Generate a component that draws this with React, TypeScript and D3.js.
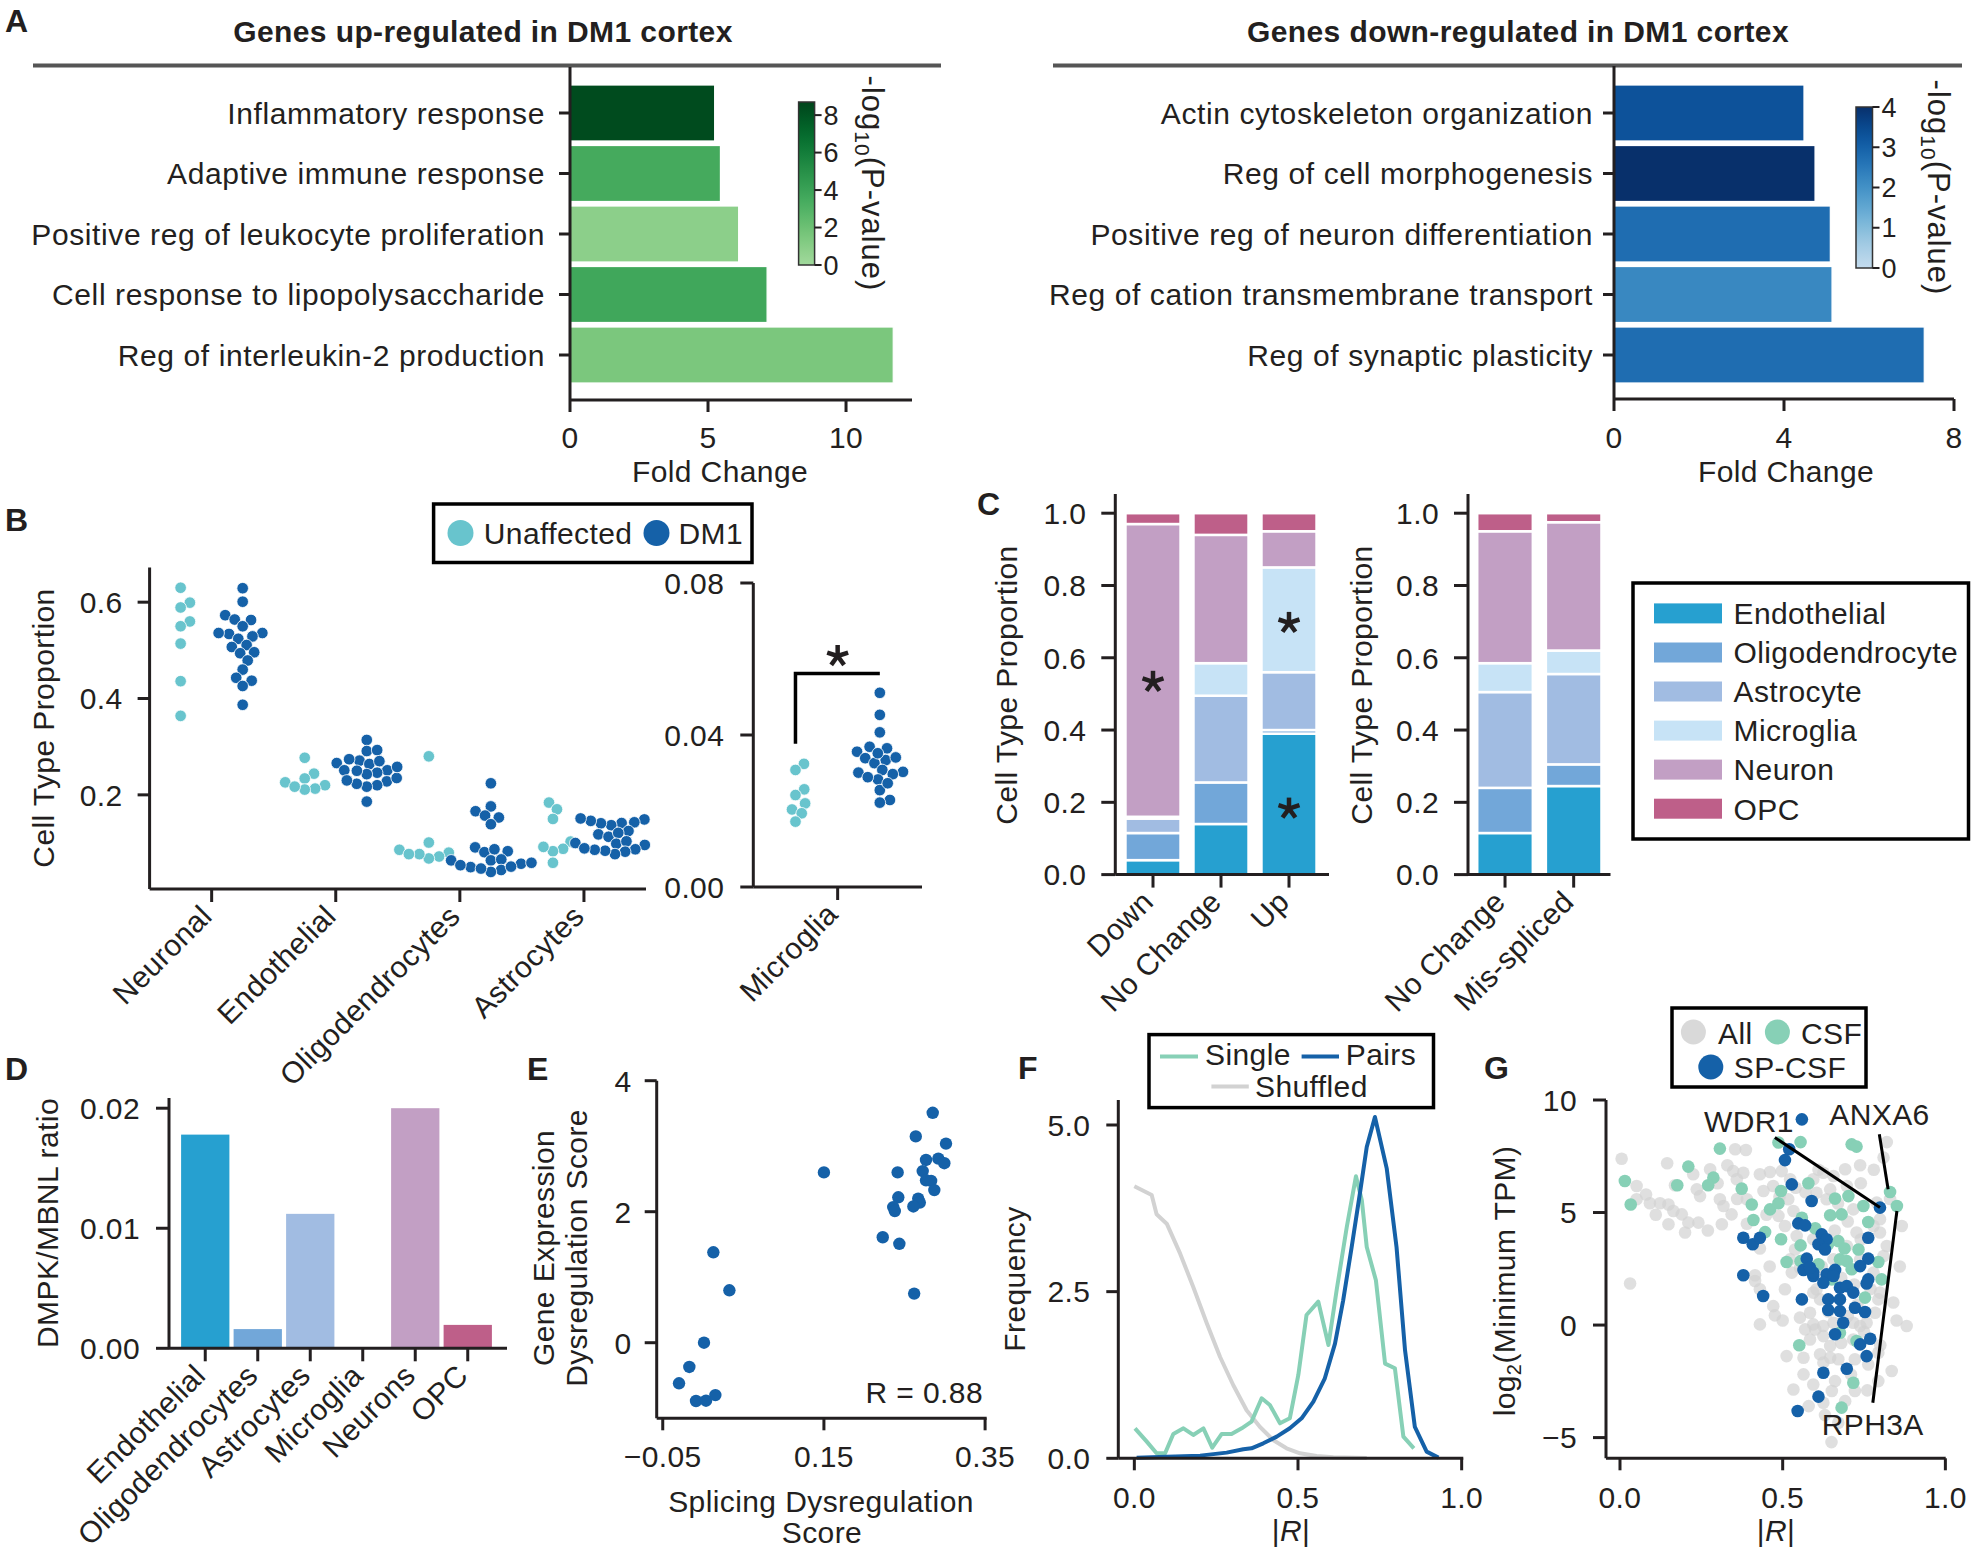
import React from "react";
import * as d3 from "d3";

const FONT = "'Liberation Sans', Arial, Helvetica, sans-serif";
const INK = "#231f20";
const AX = 3;
const FS = 30;

// ================= Panel A data =================
const upTerms = [
  "Inflammatory response",
  "Adaptive immune response",
  "Positive reg of leukocyte proliferation",
  "Cell response to lipopolysaccharide",
  "Reg of interleukin-2 production",
];
const upFold = [5.24, 5.45, 6.11, 7.14, 11.71];
const upLogP = [8.4, 3.5, 0.85, 3.7, 1.5];
const upCbarTicks = [0, 2, 4, 6, 8];

const downTerms = [
  "Actin cytoskeleton organization",
  "Reg of cell morphogenesis",
  "Positive reg of neuron differentiation",
  "Reg of cation transmembrane transport",
  "Reg of synaptic plasticity",
];
const downFold = [4.47, 4.73, 5.09, 5.13, 7.3];
const downLogP = [3.3, 4.0, 2.75, 2.2, 2.75];
const downCbarTicks = [0, 1, 2, 3, 4];

// ================= Panel B data =================
const bCats = ["Neuronal", "Endothelial", "Oligodendrocytes", "Astrocytes"];
const neuronalUnaffected = [0.63, 0.599, 0.589, 0.56, 0.55, 0.514, 0.436, 0.364];
const neuronalDM1 = [0.629, 0.601, 0.573, 0.563, 0.564, 0.55, 0.536, 0.534, 0.529, 0.536, 0.524, 0.507, 0.511, 0.494, 0.496, 0.479, 0.46, 0.443, 0.437, 0.426, 0.387];
const endothelialUnaffected = [0.277, 0.244, 0.234, 0.226, 0.22, 0.213, 0.211, 0.217];
const endothelialDM1 = [0.314, 0.291, 0.293, 0.271, 0.266, 0.274, 0.264, 0.27, 0.251, 0.246, 0.243, 0.251, 0.25, 0.228, 0.22, 0.217, 0.223, 0.23, 0.235, 0.186, 0.258];
const oligoUnaffected = [0.28, 0.101, 0.086, 0.08, 0.072, 0.068, 0.077, 0.077];
const oligoDM1 = [0.224, 0.176, 0.166, 0.153, 0.157, 0.139, 0.091, 0.083, 0.081, 0.087, 0.057, 0.064, 0.059, 0.064, 0.066, 0.044, 0.04, 0.05, 0.051, 0.054, 0.047];
const astroUnaffected = [0.184, 0.17, 0.15, 0.103, 0.088, 0.083, 0.092, 0.059];
const astroDM1 = [0.149, 0.143, 0.1415, 0.137, 0.141, 0.146, 0.151, 0.125, 0.118, 0.113, 0.121, 0.0985, 0.1, 0.096, 0.1035, 0.087, 0.082, 0.077, 0.084, 0.086, 0.089];
const microUnaffected = [0.0324, 0.0308, 0.0257, 0.0242, 0.022, 0.0204, 0.0194, 0.0172];
const microDM1 = [0.0511, 0.0453, 0.0407, 0.0369, 0.0365, 0.0356, 0.0334, 0.0339, 0.0341, 0.0326, 0.0301, 0.0303, 0.0308, 0.0283, 0.0289, 0.0297, 0.0255, 0.0229, 0.0222, 0.0352, 0.0273];
const bTicks = [0.2, 0.4, 0.6];
const microTicks = [0, 0.04, 0.08];

// ================= Panel C data =================
const cellTypes = ["Endothelial", "Oligodendrocyte", "Astrocyte", "Microglia", "Neuron", "OPC"];
const cellColors = ["#26a0d0", "#72a7d9", "#a1bce2", "#c7e3f6", "#c29fc4", "#be5f89"];
const cCats1 = ["Down", "No Change", "Up"];
const c1Endothelial = [0.04, 0.14, 0.39];
const c1Oligodendrocyte = [0.075, 0.115, 0.01];
const c1Astrocyte = [0.04, 0.24, 0.16];
const c1Microglia = [0.005, 0.09, 0.29];
const c1Neuron = [0.81, 0.355, 0.1];
const c1OPC = [0.03, 0.06, 0.05];
const cCats2 = ["No Change", "Mis-spliced"];
const c2Endothelial = [0.115, 0.245];
const c2Oligodendrocyte = [0.125, 0.06];
const c2Astrocyte = [0.265, 0.25];
const c2Microglia = [0.08, 0.065];
const c2Neuron = [0.365, 0.355];
const c2OPC = [0.05, 0.025];
const cTicks = [0, 0.2, 0.4, 0.6, 0.8, 1.0];

// ================= Panel D data =================
const dCats = ["Endothelial", "Oligodendrocytes", "Astrocytes", "Microglia", "Neurons", "OPC"];
const dRatio = [0.0178, 0.0016, 0.0112, 0.0001, 0.02, 0.00195];
const dTicks = [0, 0.01, 0.02];

// ================= Panel E data =================
const eSplicing = [0.285, 0.264, 0.3015, 0.15, 0.2415, 0.2767, 0.292, 0.2994, 0.2726, 0.2767, 0.283, 0.287, 0.2423, 0.267, 0.269, 0.261, 0.236, 0.238, 0.223, 0.2436, 0.262, 0.0128, 0.0327, 0.0012, -0.017, -0.0298, -0.0087, 0.0037, 0.0153];
const eExpression = [3.51, 3.15, 3.04, 2.6, 2.6, 2.79, 2.81, 2.74, 2.62, 2.48, 2.47, 2.33, 2.22, 2.2, 2.14, 2.08, 2.07, 2.01, 1.61, 1.51, 0.75, 1.38, 0.8, 0.0, -0.37, -0.62, -0.89, -0.885, -0.8];
const eXTicks = [-0.05, 0.15, 0.35];
const eYTicks = [0, 2, 4];

// ================= Panel F data =================
const fShuffledR = [0.0, 0.053, 0.068, 0.099, 0.14, 0.18, 0.221, 0.262, 0.302, 0.343, 0.384, 0.425, 0.465, 0.506, 0.557, 0.608, 0.71];
const fShuffledFreq = [4.08, 3.95, 3.66, 3.52, 3.07, 2.57, 2.03, 1.52, 1.1, 0.72, 0.47, 0.27, 0.15, 0.075, 0.035, 0.015, 0.005];
const fSingleR = [0.002, 0.038, 0.068, 0.094, 0.119, 0.15, 0.18, 0.211, 0.238, 0.267, 0.297, 0.328, 0.358, 0.389, 0.414, 0.445, 0.475, 0.501, 0.526, 0.562, 0.593, 0.618, 0.649, 0.677, 0.695, 0.71, 0.738, 0.766, 0.796, 0.822, 0.854];
const fSingleFreq = [0.45, 0.25, 0.075, 0.075, 0.365, 0.45, 0.35, 0.45, 0.16, 0.365, 0.365, 0.45, 0.55, 0.9, 0.8, 0.525, 0.6, 1.25, 2.15, 2.35, 1.7, 2.52, 3.47, 4.23, 3.87, 3.17, 2.67, 1.42, 1.35, 0.325, 0.15];
const fPairsR = [0.007, 0.099, 0.201, 0.282, 0.333, 0.358, 0.394, 0.435, 0.475, 0.511, 0.547, 0.582, 0.613, 0.638, 0.664, 0.689, 0.71, 0.735, 0.771, 0.801, 0.827, 0.857, 0.893, 0.929];
const fPairsFreq = [0.01, 0.025, 0.04, 0.085, 0.135, 0.15, 0.225, 0.325, 0.45, 0.6, 0.85, 1.2, 1.72, 2.37, 3.17, 3.97, 4.67, 5.12, 4.35, 3.17, 1.62, 0.47, 0.1, 0.01];
const fXTicks = [0, 0.5, 1.0];
const fYTicks = [0, 2.5, 5.0];

// ================= Panel G data =================
const gAll: [number, number][] = [
  [0.005, 7.39], [0.051, 6.18], [0.051, 5.59], [0.092, 5.41], [0.123, 5.41], [0.149, 5.36], [0.164, 5.07], [0.149, 4.48], [0.19, 4.92], [0.2, 4.11],
  [0.145, 7.19], [0.169, 6.21], [0.225, 6.7], [0.236, 6.03], [0.246, 5.73], [0.241, 4.55], [0.21, 4.55], [0.277, 6.92], [0.307, 5.59], [0.313, 4.48],
  [0.318, 5.29], [0.343, 4.92], [0.354, 7.81], [0.387, 7.78], [0.348, 6.84], [0.379, 6.77], [0.359, 6.48], [0.39, 5.59], [0.43, 6.7], [0.441, 5.96],
  [0.461, 6.8], [0.471, 6.18], [0.497, 6.84], [0.523, 6.48], [0.517, 5.59], [0.487, 4.85], [0.533, 5.07], [0.507, 4.4], [0.543, 3.96], [0.538, 3.36],
  [0.523, 2.92], [0.553, 2.55], [0.031, 1.85], [0.415, 1.96], [0.43, 1.59], [0.415, 2.21], [0.507, 1.59], [0.471, 0.84], [0.476, 0.43], [0.43, 0.03],
  [0.553, 0.33], [0.569, -0.19], [0.594, 0.03], [0.625, -0.04], [0.656, 0.1], [0.717, 0.1], [0.738, -0.04], [0.758, 0.1], [0.881, -0.04], [0.625, -0.49],
  [0.584, -0.64], [0.646, -0.93], [0.615, -1.3], [0.512, -1.38], [0.564, -1.45], [0.646, -1.45], [0.671, -1.52], [0.625, -1.67], [0.722, -1.52], [0.763, -1.75],
  [0.794, -1.23], [0.835, -2.04], [0.794, -2.49], [0.564, -2.19], [0.594, -2.64], [0.661, -2.49], [0.722, -2.93], [0.651, -2.93], [0.533, -2.86], [0.625, -3.45],
  [0.692, -3.38], [0.65, -5.2], [0.671, -4.34], [0.81, 7.44], [0.82, 8.13], [0.866, 4.4], [0.799, 4.7], [0.692, 6.92], [0.656, 6.62], [0.738, 7.1],
  [0.625, 6.77], [0.594, 6.48], [0.646, 6.03], [0.697, 6.18], [0.604, 5.88], [0.635, 5.59], [0.717, 5.14], [0.789, 5.44], [0.799, 4.11], [0.82, 3.51],
  [0.81, 3.07], [0.799, 1.44], [0.794, 1.14], [0.784, 0.55], [0.717, -0.64], [0.594, 3.81], [0.528, 2.33], [0.594, 1.44], [0.615, 1.14], [0.584, 0.55],
  [0.604, 1.59], [0.727, 4.11], [0.738, 2.92], [0.697, 3.51], [0.656, 2.92], [0.779, 2.33], [0.779, 4.4], [0.66, 4.2], [0.7, 4.6], [0.74, 3.8],
  [0.62, 2.6], [0.68, 2.1], [0.72, 1.8], [0.64, 0.6], [0.7, 0.4], [0.75, -0.3], [0.68, -0.8], [0.6, -0.2], [0.73, 0.9], [0.77, 1.6],
  [0.57, 5.9], [0.61, 6.9], [0.67, 5.4], [0.74, 6.3], [0.78, 6.9], [0.54, 6.1], [0.49, 5.7], [0.45, 4.9], [0.39, 4.5], [0.36, 5.6],
  [0.27, 4.2], [0.11, 4.9], [0.08, 5.8], [0.3, 6.3], [0.33, 7.1], [0.71, -2.2], [0.76, -2.9], [0.58, -3.6], [0.63, -4.0], [0.8, -0.9],
  [0.84, 1.0], [0.86, 2.6], [0.83, 5.6], [0.85, 0.2], [0.5, 0.2], [0.46, 2.6], [0.43, 3.4],
];
const gCSF: [number, number][] = [
  [0.555, 8.13], [0.487, 8.11], [0.307, 7.84], [0.712, 8.03], [0.727, 7.93], [0.21, 7.04], [0.287, 6.55], [0.271, 6.21], [0.176, 6.21], [0.015, 6.4],
  [0.033, 5.36], [0.374, 6.06], [0.495, 5.96], [0.579, 6.3], [0.83, 5.91], [0.851, 5.29], [0.405, 5.36], [0.461, 5.14], [0.487, 5.41], [0.661, 5.62],
  [0.702, 5.73], [0.748, 5.29], [0.41, 4.67], [0.559, 4.77], [0.646, 4.88], [0.681, 4.92], [0.763, 4.58], [0.446, 4.13], [0.495, 3.81], [0.555, 3.54],
  [0.671, 3.73], [0.733, 3.36], [0.676, 2.92], [0.697, 2.84], [0.512, 2.8], [0.555, 2.84], [0.794, 2.8], [0.712, 2.48], [0.804, 2.03], [0.651, 2.03],
  [0.753, 1.22], [0.727, -0.71], [0.551, -0.9], [0.676, -0.34], [0.717, -2.56], [0.681, -3.67], [0.61, 2.7], [0.64, 3.6], [0.6, 4.3], [0.69, 3.4],
];
const gSPCSF: [number, number][] = [
  [0.559, 9.14], [0.52, 7.81], [0.507, 7.33], [0.528, 6.25], [0.589, 5.51], [0.799, 5.22], [0.548, 4.52], [0.569, 4.43], [0.379, 3.88], [0.408, 3.59],
  [0.43, 3.88], [0.62, 4.03], [0.635, 3.81], [0.61, 3.59], [0.63, 3.36], [0.763, 3.88], [0.763, 2.95], [0.574, 2.95], [0.738, 2.62], [0.564, 2.45],
  [0.594, 2.18], [0.635, 2.25], [0.661, 2.45], [0.625, 1.88], [0.763, 2.03], [0.758, 1.85], [0.379, 2.21], [0.44, 1.29], [0.676, 1.66], [0.697, 1.73],
  [0.717, 1.44], [0.559, 1.14], [0.64, 1.14], [0.676, 1.14], [0.64, 0.67], [0.676, 0.62], [0.722, 0.77], [0.753, 0.58], [0.686, 0.1], [0.661, -0.41],
  [0.738, -0.86], [0.769, -0.61], [0.758, -1.38], [0.625, -2.12], [0.697, -1.94], [0.61, -3.18], [0.546, -3.82], [0.594, 2.33], [0.584, 2.55], [0.656, 2.18],
];
const gXTicks = [0, 0.5, 1.0];
const gYTicks = [-5, 0, 5, 10];
const gAnnot = [
  { label: "WDR1", from: [0.476, 8.33], to: [0.799, 5.22] },
  { label: "ANXA6", from: [0.797, 8.48], to: [0.824, 6.03] },
  { label: "RPH3A", from: [0.851, 5.07], to: [0.777, -3.45] },
];

// ================= colours =================
const C_UNAFF = "#68c4cd";
const C_DM1 = "#1561a8";
const C_SINGLE = "#87d0b6";
const C_PAIRS = "#1561a8";
const C_SHUF = "#d2d2d2";
const greenInterp = (t: number) => d3.interpolateGreens(0.37 + 0.63 * t);
const blueInterp = (t: number) => d3.interpolateBlues(0.25 + 0.75 * t);

// ================= helpers =================
function LeftAxis({ x, y0, y1, scale, ticks, fmt, size = 12, pad = 15 }: any) {
  return (
    <g>
      <line x1={x} x2={x} y1={y0} y2={y1} stroke={INK} strokeWidth={AX} />
      {ticks.map((t: number) => (
        <g key={t}>
          <line x1={x - size} x2={x} y1={scale(t)} y2={scale(t)} stroke={INK} strokeWidth={AX} />
          <text x={x - size - pad} y={scale(t)} dy="0.36em" textAnchor="end" fontSize={FS}>{fmt(t)}</text>
        </g>
      ))}
    </g>
  );
}

function BottomAxis({ y, x0, x1, scale, ticks, fmt, size = 12, labelY }: any) {
  return (
    <g>
      <line x1={x0} x2={x1} y1={y} y2={y} stroke={INK} strokeWidth={AX} />
      {ticks.map((t: number) => (
        <g key={t}>
          <line x1={scale(t)} x2={scale(t)} y1={y} y2={y + size} stroke={INK} strokeWidth={AX} />
          {fmt && (
            <text x={scale(t)} y={labelY} textAnchor="middle" fontSize={FS}>{fmt(t)}</text>
          )}
        </g>
      ))}
    </g>
  );
}

function RotLabels({ labels, xs, y }: any) {
  return (
    <g>
      {labels.map((l: string, i: number) => (
        <text key={l + i} transform={`translate(${xs[i] + 2},${y + 29}) rotate(-45)`} textAnchor="end" fontSize={FS}>{l}</text>
      ))}
    </g>
  );
}

function Star({ cx, cy, r = 11 }: any) {
  const angles = [-90, -18, 54, 126, 198];
  return (
    <g stroke={INK} strokeWidth={4.5}>
      {angles.map((a) => (
        <line key={a} x1={cx} y1={cy} x2={cx + r * Math.cos((a * Math.PI) / 180)} y2={cy + r * Math.sin((a * Math.PI) / 180)} />
      ))}
    </g>
  );
}

function beeswarm(values: number[], y: (v: number) => number, r: number) {
  const idx = values.map((_, i) => i).sort((a, b) => values[a] - values[b]);
  const placed: { py: number; dx: number }[] = [];
  const out: { py: number; dx: number }[] = new Array(values.length);
  const d = 2 * r * 0.9;
  for (const i of idx) {
    const py = y(values[i]);
    const cands = [0];
    for (const q of placed) {
      const dy = py - q.py;
      if (Math.abs(dy) < d) {
        const dxn = Math.sqrt(d * d - dy * dy);
        cands.push(q.dx + dxn, q.dx - dxn);
      }
    }
    cands.sort((a, b) => Math.abs(a) - Math.abs(b));
    let chosen = 0;
    for (const c of cands) {
      if (placed.every((q) => (q.dx - c) ** 2 + (q.py - py) ** 2 >= d * d - 1e-6)) {
        chosen = c;
        break;
      }
    }
    placed.push({ py, dx: chosen });
    out[i] = { py, dx: chosen };
  }
  return out;
}

// ================= Panel A =================
function EnrichPanel({ terms, fold, logp, x, axisY, axisTop, title, titleX, lineX1, lineX2, labelRight, xTicks, foldX, cb }: any) {
  const y = d3.scaleBand<string>().domain(terms).range([82.75, 385.25]).paddingInner(0.075).paddingOuter(0.0375);
  const [ax0, ax1] = x.range();
  const color = d3.scaleSequential(cb.interp).domain([0, cb.max]);
  const cbScale = d3.scaleLinear().domain([0, cb.max]).range([cb.bottom, cb.top]);
  const stops = d3.range(0, 1.0001, 0.05);
  return (
    <g>
      <text x={titleX} y={42} textAnchor="middle" fontWeight="bold" fontSize={30}>{title}</text>
      <line x1={lineX1} x2={lineX2} y1={65.5} y2={65.5} stroke="#555" strokeWidth={4} />
      {terms.map((t: string, i: number) => (
        <rect key={t} x={ax0} y={y(t)} width={x(fold[i]) - ax0} height={y.bandwidth()} fill={color(logp[i])} stroke="#fff" strokeWidth={1.2} />
      ))}
      <line x1={ax0} x2={ax0} y1={axisTop} y2={axisY} stroke={INK} strokeWidth={AX} />
      {terms.map((t: string) => {
        const cy = (y(t) as number) + y.bandwidth() / 2;
        return (
          <g key={t}>
            <line x1={ax0 - 11} x2={ax0} y1={cy} y2={cy} stroke={INK} strokeWidth={AX} />
            <text x={labelRight} y={cy} dy="0.36em" textAnchor="end" fontSize={FS} style={{ letterSpacing: "0.6px" }}>{t}</text>
          </g>
        );
      })}
      <BottomAxis y={axisY} x0={ax0} x1={ax1} scale={x} ticks={xTicks} fmt={(v: number) => String(v)} size={12} labelY={448} />
      <text x={foldX} y={482} textAnchor="middle" fontSize={FS}>Fold Change</text>
      <defs>
        <linearGradient id={cb.id} x1="0" y1="1" x2="0" y2="0">
          {stops.map((s) => (
            <stop key={s} offset={s} stopColor={cb.interp(s)} />
          ))}
        </linearGradient>
      </defs>
      <rect x={cb.x} y={cb.top} width={cb.w} height={cb.bottom - cb.top} fill={`url(#${cb.id})`} stroke="#333" strokeWidth={1.5} />
      {cb.ticks.map((t: number) => (
        <g key={t}>
          <line x1={cb.x + cb.w} x2={cb.x + cb.w + 7} y1={cbScale(t)} y2={cbScale(t)} stroke={INK} strokeWidth={2} />
          <text x={cb.x + cb.w + 9} y={cbScale(t)} dy="0.36em" fontSize={27}>{t}</text>
        </g>
      ))}
      <text transform={`translate(${cb.labelX},${(cb.top + cb.bottom) / 2}) rotate(90)`} textAnchor="middle" fontSize={31} style={{ letterSpacing: "1px" }}>
        -log<tspan fontSize={21} dy={7}>10</tspan><tspan dy={-7}>(P-value)</tspan>
      </text>
    </g>
  );
}

// ================= Panel B =================
function PanelB() {
  const yB = d3.scaleLinear().domain([0, 0.672]).range([891.2, 567.5]);
  const xB = d3.scaleBand<string>().domain(bCats).range([149.6, 646]);
  const groups = [
    [neuronalUnaffected, neuronalDM1],
    [endothelialUnaffected, endothelialDM1],
    [oligoUnaffected, oligoDM1],
    [astroUnaffected, astroDM1],
  ];
  const r = 5.8;
  const off = xB.bandwidth() * 0.25;
  const yM = d3.scaleLinear().domain([0, 0.08]).range([887, 583]);
  const xM = d3.scaleBand<string>().domain(["Microglia"]).range([753.3, 922]);
  const mc = (xM("Microglia") as number) + xM.bandwidth() / 2;
  const mOff = xM.bandwidth() * 0.25;
  const dots = (vals: number[], y: any, cx: number, fill: string, key: string) =>
    beeswarm(vals, y, r).map((p, i) => (
      <circle key={key + i} cx={cx + p.dx} cy={p.py} r={r} fill={fill} stroke="#fff" strokeWidth={0.8} />
    ));
  return (
    <g>
      {/* legend */}
      <rect x={433.6} y={504} width={318.4} height={58.5} fill="#fff" stroke="#000" strokeWidth={3.5} />
      <circle cx={460.5} cy={533} r={13} fill={C_UNAFF} />
      <text x={483.8} y={543.6} fontSize={FS}>Unaffected</text>
      <circle cx={656.5} cy={533} r={13} fill={C_DM1} />
      <text x={678.5} y={543.6} fontSize={FS}>DM1</text>

      {groups.map((g, gi) => {
        const c = (xB(bCats[gi]) as number) + xB.bandwidth() / 2;
        return (
          <g key={gi}>
            {dots(g[0], yB, c - off, C_UNAFF, "u" + gi)}
            {dots(g[1], yB, c + off, C_DM1, "d" + gi)}
          </g>
        );
      })}
      <LeftAxis x={149.6} y0={567.5} y1={889} scale={yB} ticks={bTicks} fmt={d3.format(".1f")} size={12} pad={15} />
      <BottomAxis y={889} x0={149.6} x1={646} scale={(c: string) => (xB(c) as number) + xB.bandwidth() / 2} ticks={bCats} size={13} />
      <RotLabels labels={bCats} xs={bCats.map((c) => (xB(c) as number) + xB.bandwidth() / 2)} y={889} />
      <text transform="translate(54,728) rotate(-90)" textAnchor="middle" fontSize={FS}>Cell Type Proportion</text>

      {/* microglia */}
      {dots(microUnaffected, yM, mc - mOff, C_UNAFF, "mu")}
      {dots(microDM1, yM, mc + mOff, C_DM1, "md")}
      <LeftAxis x={753.3} y0={583} y1={887} scale={yM} ticks={microTicks} fmt={d3.format(".2f")} size={13} pad={16} />
      <BottomAxis y={887} x0={753.3} x1={922} scale={() => mc} ticks={["Microglia"]} size={13} />
      <RotLabels labels={["Microglia"]} xs={[mc]} y={887} />
      <path d={`M${mc - mOff},${yM(0.0377)}V${yM(0.0562)}H${mc + mOff}`} fill="none" stroke="#000" strokeWidth={3.5} />
      <Star cx={mc} cy={656} />
    </g>
  );
}

// ================= Panel C =================
function StackChart({ cats, series, axisX, band, axisEnd }: any) {
  const y = d3.scaleLinear().domain([0, 1]).range([874.6, 513.2]);
  const x = d3.scaleBand<string>().domain(cats).range(band).paddingInner(0.19).paddingOuter(0.095);
  const rows = cats.map((c: string, i: number) => {
    const o: any = { cat: c };
    cellTypes.forEach((t, k) => (o[t] = series[k][i]));
    return o;
  });
  const stacked = d3.stack().keys(cellTypes)(rows);
  return (
    <g>
      {stacked.map((layer: any, k: number) =>
        layer.map((seg: any, i: number) => (
          <rect key={k + "-" + i} x={x(cats[i])} width={x.bandwidth()} y={y(seg[1])} height={Math.max(0, y(seg[0]) - y(seg[1]))} fill={cellColors[k]} stroke="#fff" strokeWidth={2.5} />
        ))
      )}
      <LeftAxis x={axisX} y0={494} y1={874.6} scale={y} ticks={cTicks} fmt={d3.format(".1f")} size={14} pad={15} />
      <BottomAxis y={874.6} x0={axisX} x1={axisEnd} scale={(c: string) => (x(c) as number) + x.bandwidth() / 2} ticks={cats} size={13} />
      <RotLabels labels={cats} xs={cats.map((c: string) => (x(c) as number) + x.bandwidth() / 2)} y={874.6} />
    </g>
  );
}

function PanelC() {
  const legendY = [613.4, 652.5, 691.5, 730.6, 769.6, 808.7];
  return (
    <g>
      <StackChart cats={cCats1} series={[c1Endothelial, c1Oligodendrocyte, c1Astrocyte, c1Microglia, c1Neuron, c1OPC]} axisX={1115.3} band={[1119, 1323]} axisEnd={1329} />
      <StackChart cats={cCats2} series={[c2Endothelial, c2Oligodendrocyte, c2Astrocyte, c2Microglia, c2Neuron, c2OPC]} axisX={1468} band={[1470.7, 1608]} axisEnd={1610.5} />
      <text transform="translate(1017,685) rotate(-90)" textAnchor="middle" fontSize={FS}>Cell Type Proportion</text>
      <text transform="translate(1371.5,685) rotate(-90)" textAnchor="middle" fontSize={FS}>Cell Type Proportion</text>
      <Star cx={1153} cy={681.8} />
      <Star cx={1289} cy={622.9} />
      <Star cx={1289} cy={808.6} />
      <rect x={1633} y={583} width={335.5} height={256} fill="#fff" stroke="#000" strokeWidth={3.5} />
      {cellTypes.map((t, i) => (
        <g key={t}>
          <rect x={1654} y={legendY[i] - 10} width={68} height={20} fill={cellColors[i]} />
          <text x={1733.5} y={legendY[i]} dy="0.36em" fontSize={FS}>{t}</text>
        </g>
      ))}
    </g>
  );
}

// ================= Panel D =================
function PanelD() {
  const y = d3.scaleLinear().domain([0, 0.02085]).range([1348.3, 1098]);
  const x = d3.scaleBand<string>().domain(dCats).range([179, 494]).paddingInner(0.08).paddingOuter(0.04);
  const dColors = ["#26a0d0", "#72a7d9", "#a1bce2", "#c7e3f6", "#c29fc4", "#be5f89"];
  const cx = (c: string) => (x(c) as number) + x.bandwidth() / 2;
  return (
    <g>
      {dCats.map((c, i) => (
        <rect key={c} x={x(c)} width={x.bandwidth()} y={y(dRatio[i])} height={y(0) - y(dRatio[i])} fill={dColors[i]} />
      ))}
      <LeftAxis x={169} y0={1098} y1={1348.3} scale={y} ticks={dTicks} fmt={d3.format(".2f")} size={13} pad={16} />
      <BottomAxis y={1348.3} x0={169} x1={507} scale={cx} ticks={dCats} size={13} />
      <RotLabels labels={dCats} xs={dCats.map(cx)} y={1348.3} />
      <text transform="translate(58,1223) rotate(-90)" textAnchor="middle" fontSize={FS}>DMPK/MBNL ratio</text>
    </g>
  );
}

// ================= Panel E =================
function PanelE() {
  const x = d3.scaleLinear().domain([-0.0575, 0.352]).range([656.7, 986.7]);
  const y = d3.scaleLinear().domain([-1.154, 4]).range([1418.3, 1080.7]);
  return (
    <g>
      {eSplicing.map((s, i) => (
        <circle key={i} cx={x(s)} cy={y(eExpression[i])} r={6.2} fill={C_DM1} />
      ))}
      <LeftAxis x={656.7} y0={1080.7} y1={1418.3} scale={y} ticks={eYTicks} fmt={(v: number) => String(v)} size={12} pad={13} />
      <BottomAxis y={1418.3} x0={656.7} x1={986.7} scale={x} ticks={eXTicks} fmt={(v: number) => (v < 0 ? "\u2212" + Math.abs(v).toFixed(2) : v.toFixed(2))} size={12} labelY={1467} />
      <text x={983} y={1403} textAnchor="end" fontSize={FS}>R = 0.88</text>
      <text transform="translate(554,1248) rotate(-90)" textAnchor="middle" fontSize={FS}>Gene Expression</text>
      <text transform="translate(587,1248) rotate(-90)" textAnchor="middle" fontSize={FS}>Dysregulation Score</text>
      <text x={821} y={1512} textAnchor="middle" fontSize={FS}>Splicing Dysregulation</text>
      <text x={822} y={1543} textAnchor="middle" fontSize={FS}>Score</text>
    </g>
  );
}

// ================= Panel F =================
function PanelF() {
  const x = d3.scaleLinear().domain([-0.049, 1.005]).range([1118.3, 1463.3]);
  const y = d3.scaleLinear().domain([0, 5.375]).range([1458.3, 1100]);
  const line = d3.line<[number, number]>().x((d) => x(d[0])).y((d) => y(d[1]));
  const shuf = d3.zip(fShuffledR, fShuffledFreq) as [number, number][];
  const single = d3.zip(fSingleR, fSingleFreq) as [number, number][];
  const pairs = d3.zip(fPairsR, fPairsFreq) as [number, number][];
  return (
    <g>
      <path d={line(shuf) as string} fill="none" stroke={C_SHUF} strokeWidth={4} strokeLinejoin="round" />
      <path d={line(single) as string} fill="none" stroke={C_SINGLE} strokeWidth={4} strokeLinejoin="round" />
      <path d={line(pairs) as string} fill="none" stroke={C_PAIRS} strokeWidth={4} strokeLinejoin="round" />
      <LeftAxis x={1118.3} y0={1100} y1={1458.3} scale={y} ticks={fYTicks} fmt={d3.format(".1f")} size={12} pad={16} />
      <BottomAxis y={1458.3} x0={1118.3} x1={1463.3} scale={x} ticks={fXTicks} fmt={d3.format(".1f")} size={12} labelY={1508} />
      <text x={1291} y={1541} textAnchor="middle" fontSize={FS}>|<tspan fontStyle="italic">R</tspan>|</text>
      <text transform="translate(1025,1279) rotate(-90)" textAnchor="middle" fontSize={FS}>Frequency</text>
      {/* legend */}
      <rect x={1149} y={1034.6} width={284.5} height={73} fill="#fff" stroke="#000" strokeWidth={3.5} />
      <line x1={1160} x2={1198} y1={1056.4} y2={1056.4} stroke={C_SINGLE} strokeWidth={4} />
      <text x={1205} y={1065} fontSize={FS}>Single</text>
      <line x1={1301.6} x2={1339} y1={1056.4} y2={1056.4} stroke={C_PAIRS} strokeWidth={4} />
      <text x={1345.8} y={1065} fontSize={FS}>Pairs</text>
      <line x1={1211.4} x2={1248.8} y1={1086.4} y2={1086.4} stroke={C_SHUF} strokeWidth={4} />
      <text x={1255} y={1097} fontSize={FS}>Shuffled</text>
    </g>
  );
}

// ================= Panel G =================
function PanelG() {
  const x = d3.scaleLinear().domain([-0.043, 1.001]).range([1606, 1945.7]);
  const y = d3.scaleLinear().domain([-5.92, 10]).range([1458.3, 1100]);
  const labelPos: any = { WDR1: [1704, 1131.7], ANXA6: [1829.3, 1125], RPH3A: [1821.7, 1435] };
  return (
    <g>
      {gAll.map((p, i) => (
        <circle key={"a" + i} cx={x(p[0])} cy={y(p[1])} r={6.3} fill="#d2d2d2" fillOpacity={0.7} />
      ))}
      {gCSF.map((p, i) => (
        <circle key={"c" + i} cx={x(p[0])} cy={y(p[1])} r={6.3} fill={C_SINGLE} />
      ))}
      {gSPCSF.map((p, i) => (
        <circle key={"s" + i} cx={x(p[0])} cy={y(p[1])} r={6.3} fill={C_DM1} />
      ))}
      {gAnnot.map((a) => (
        <g key={a.label}>
          <line x1={x(a.from[0])} y1={y(a.from[1])} x2={x(a.to[0])} y2={y(a.to[1])} stroke="#000" strokeWidth={3} />
          <text x={labelPos[a.label][0]} y={labelPos[a.label][1]} fontSize={FS}>{a.label}</text>
        </g>
      ))}
      <LeftAxis x={1606} y0={1100} y1={1458.3} scale={y} ticks={gYTicks} fmt={(v: number) => (v < 0 ? "\u2212" + Math.abs(v) : String(v))} size={13} pad={16} />
      <BottomAxis y={1458.3} x0={1606} x1={1945.7} scale={x} ticks={gXTicks} fmt={d3.format(".1f")} size={12} labelY={1508} />
      <text x={1776} y={1541} textAnchor="middle" fontSize={FS}>|<tspan fontStyle="italic">R</tspan>|</text>
      <text transform="translate(1515,1281) rotate(-90)" textAnchor="middle" fontSize={FS}>
        log<tspan fontSize={20} dy={6}>2</tspan><tspan dy={-6}>(Minimum TPM)</tspan>
      </text>
      {/* legend */}
      <rect x={1672} y={1008} width={194} height={79} fill="#fff" stroke="#000" strokeWidth={3.5} />
      <circle cx={1693.4} cy={1032} r={12.5} fill="#d9d9d9" />
      <text x={1718} y={1044} fontSize={FS}>All</text>
      <circle cx={1777.4} cy={1032} r={12.5} fill={C_SINGLE} />
      <text x={1801} y={1044} fontSize={FS}>CSF</text>
      <circle cx={1710.8} cy={1067} r={12.5} fill={C_DM1} />
      <text x={1733.8} y={1078} fontSize={FS}>SP-CSF</text>
    </g>
  );
}

export default function App() {
  const xA1 = d3.scaleLinear().domain([0, 12.39]).range([570, 912]);
  const xA2 = d3.scaleLinear().domain([0, 8]).range([1614, 1954]);
  return (
    <div style={{ position: "absolute", left: 0, top: 0, width: 1975, height: 1553, background: "#fff", overflow: "hidden" }}>
      <svg width={1975} height={1553} style={{ display: "block", fontFamily: FONT, letterSpacing: "0.4px" }} fill={INK}>
        <rect width={1975} height={1553} fill="#fff" />
        <EnrichPanel
          terms={upTerms} fold={upFold} logp={upLogP} x={xA1} axisY={400} axisTop={67}
          title="Genes up-regulated in DM1 cortex" titleX={483} lineX1={33} lineX2={941}
          labelRight={545} xTicks={[0, 5, 10]} foldX={720}
          cb={{ id: "gradUp", interp: greenInterp, max: 8.7, x: 798.6, w: 16, top: 102, bottom: 265, ticks: upCbarTicks, labelX: 862 }}
        />
        <EnrichPanel
          terms={downTerms} fold={downFold} logp={downLogP} x={xA2} axisY={399} axisTop={66}
          title="Genes down-regulated in DM1 cortex" titleX={1518} lineX1={1053} lineX2={1962}
          labelRight={1593} xTicks={[0, 4, 8]} foldX={1786}
          cb={{ id: "gradDown", interp: blueInterp, max: 4, x: 1856, w: 16.5, top: 107, bottom: 268, ticks: downCbarTicks, labelX: 1928 }}
        />
        <PanelB />
        <PanelC />
        <PanelD />
        <PanelE />
        <PanelF />
        <PanelG />
        <g fontWeight="bold" fontSize={32}>
          <text x={5} y={32}>A</text>
          <text x={5} y={531}>B</text>
          <text x={977} y={515}>C</text>
          <text x={5} y={1080}>D</text>
          <text x={527} y={1080}>E</text>
          <text x={1018} y={1079}>F</text>
          <text x={1484} y={1079}>G</text>
        </g>
      </svg>
    </div>
  );
}
